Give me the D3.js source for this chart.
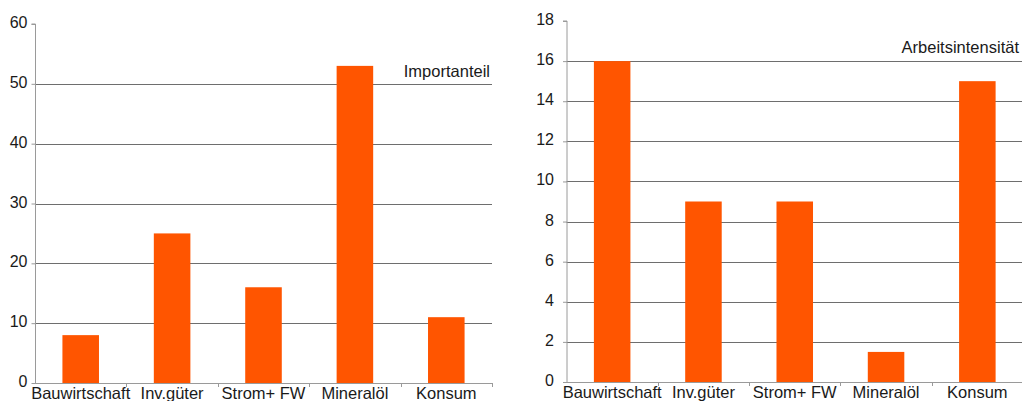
<!DOCTYPE html>
<html><head><meta charset="utf-8">
<script src="https://cdn.jsdelivr.net/npm/d3@7"></script>
<style>
body{margin:0;background:#fff;}
text{font-family:"Liberation Sans",Arial,Helvetica,sans-serif;fill:#1a1a1a;}
</style></head>
<body>
<svg id="c" width="1022" height="401"></svg>
<script>
const categories = ["Bauwirtschaft","Inv.güter","Strom+ FW","Mineralöl","Konsum"];
const importValues = [8, 25, 16, 53, 11];
const arbeitValues = [16, 9, 9, 1.5, 15];
const importTicks = [0,10,20,30,40,50,60];
const arbeitTicks = [0,2,4,6,8,10,12,14,16,18];
const importLabel = "Importanteil";
const arbeitLabel = "Arbeitsintensität";

const svg = d3.select("#c");

function panel(cfg){
  const g = svg.append("g");
  const x = d3.scaleBand().domain(categories).range([cfg.x0, cfg.x1]).paddingInner(0.6).paddingOuter(0.3);
  const y = d3.scaleLinear().domain([0, cfg.max]).range([cfg.y0, cfg.y1]);
  // gridlines
  g.selectAll("line.grid").data(cfg.ticks.filter(t => t>0 && t<cfg.max)).enter().append("line")
    .attr("x1", cfg.x0).attr("x2", cfg.x1)
    .attr("y1", d => Math.round(y(d))+0.5).attr("y2", d => Math.round(y(d))+0.5)
    .attr("stroke", "#6e6e6e").attr("stroke-width", 1);
  // bars
  g.selectAll("rect").data(cfg.values).enter().append("rect")
    .attr("x", (d,i) => x(categories[i]))
    .attr("width", x.bandwidth())
    .attr("y", d => y(d))
    .attr("height", d => y(0) - y(d))
    .attr("fill", "#ff5500");
  // y axis
  const ya = d3.axisLeft(y).tickValues(cfg.ticks).tickSize(4).tickPadding(cfg.pad).tickFormat(d3.format("d"));
  const yg = g.append("g").attr("transform", `translate(${cfg.x0 + 0.5},0)`).call(ya);
  yg.select(".domain").attr("stroke", "#9a9a9a").attr("d", `M-4,${y(cfg.max)}H0V${y(0)}`);
  yg.selectAll(".tick line").attr("stroke", "#9a9a9a");
  yg.selectAll(".tick text").attr("font-size", 16).attr("fill", "#1a1a1a").attr("dy", "0.22em");
  // x axis
  const step = x.step();
  const start = x(categories[0]) - x.paddingOuter()*step;
  const bounds = d3.range(categories.length + 1).map(i => start + i*step);
  g.append("line").attr("x1", cfg.x0).attr("x2", cfg.x1)
    .attr("y1", y(0)+0.5).attr("y2", y(0)+0.5).attr("stroke", "#9a9a9a");
  g.selectAll("line.xt").data(bounds.slice(1)).enter().append("line")
    .attr("x1", d => Math.round(d)+0.5).attr("x2", d => Math.round(d)+0.5)
    .attr("y1", y(0)).attr("y2", y(0)+4).attr("stroke", "#9a9a9a");
  g.selectAll("text.cat").data(categories).enter().append("text")
    .attr("x", d => x(d) + x.bandwidth()/2).attr("y", y(0)+16)
    .attr("text-anchor", "middle").attr("font-size", 16.5).text(d => d);
  // series label
  g.append("text").attr("x", cfg.lx).attr("y", cfg.ly).attr("text-anchor", "end")
    .attr("font-size", 16.5).text(cfg.label);
}

panel({x0:35, x1:492, y0:383, y1:24, max:60, ticks:importTicks, values:importValues, pad:4, label:importLabel, lx:490, ly:77});
panel({x0:566.5, x1:1023, y0:382, y1:21, max:18, ticks:arbeitTicks, values:arbeitValues, pad:9, label:arbeitLabel, lx:1019, ly:53});
</script>
</body></html>
